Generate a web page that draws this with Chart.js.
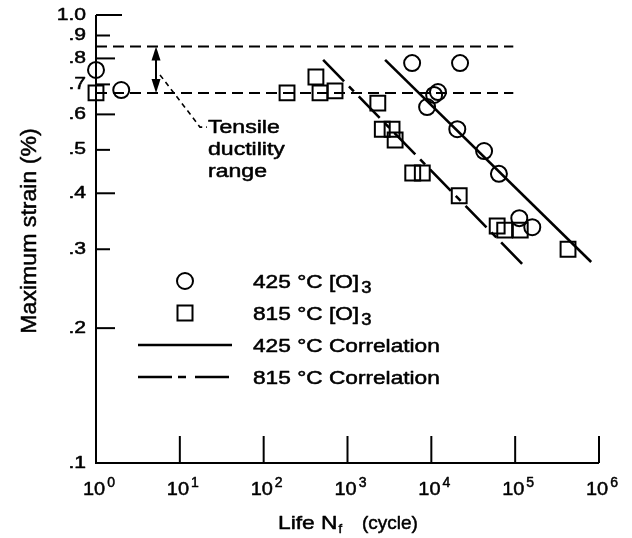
<!DOCTYPE html>
<html><head><meta charset="utf-8">
<script src="https://cdn.jsdelivr.net/npm/chart.js@4/dist/chart.umd.min.js"></script>
<style>html,body{margin:0;padding:0;background:#fff;}canvas{display:block;}</style>
</head><body>
<canvas id="c" width="632" height="538"></canvas>
<script>
// ---- data ----
const yTickValues = [0.1, 0.2, 0.3, 0.4, 0.5, 0.6, 0.7, 0.8, 0.9, 1.0];
const yTickLabels = ['.1', '.2', '.3', '.4', '.5', '.6', '.7', '.8', '.9', '1.0'];
const xTickExponents = [0, 1, 2, 3, 4, 5, 6];

const circ425X = [1, 2.0, 5900, 22000, 12000, 10800, 8900, 20400, 42600, 64000, 112000, 160000];
const circ425Y = [0.754, 0.680, 0.781, 0.781, 0.673, 0.663, 0.623, 0.556, 0.497, 0.442, 0.352, 0.336];

const sq815X = [1, 190, 420, 470, 710, 2300, 2600, 3400, 3700, 6000, 7800, 21500, 61000, 75000, 115000, 427000];
const sq815Y = [0.67, 0.67, 0.727, 0.67, 0.677, 0.636, 0.556, 0.556, 0.526, 0.444, 0.444, 0.395, 0.338, 0.331, 0.331, 0.300];

const corr425X = [2810, 807000];
const corr425Y = [0.794, 0.281];
const corr815X = [512, 131000];
const corr815Y = [0.794, 0.274];

const ductilityRange = [0.67, 0.85];      // strain bounds of tensile ductility
const ductilityLineX = [1, 95000];        // extent of the dashed bounds
const ductilityArrowX = 5.2;
const leaderX = [5.8, 14.4, 17.4, 21.1];
const leaderY = [0.735, 0.589, 0.562, 0.562];

const legendLabels = ['425 °C [O]', '815 °C [O]', '425 °C Correlation', '815 °C Correlation'];
const legendSubs = ['3', '3', '', ''];
const annotationLines = ['Tensile', 'ductility', 'range'];
const xTitle = ['Life N', 'f', '(cycle)'];
const yTitle = 'Maximum strain (%)';

const pts = (xs, ys) => xs.map((x, i) => ({ x: x, y: ys[i] }));

// ---- drawing helpers ----
const FONT = '"Liberation Sans", Arial, Helvetica, sans-serif';
function drawText(ctx, s, x, y, size, sx, align, baseline) {
  ctx.save();
  ctx.font = size + 'px ' + FONT;
  ctx.translate(x, y);
  ctx.scale(sx, 1);
  ctx.textAlign = align || 'left';
  ctx.textBaseline = baseline || 'alphabetic';
  ctx.lineWidth = 0.5;
  ctx.lineJoin = 'round';
  ctx.strokeStyle = '#000';
  ctx.fillText(s, 0, 0);
  ctx.strokeText(s, 0, 0);
  const w = ctx.measureText(s).width * sx;
  ctx.restore();
  return w;
}

const decor = {
  id: 'decor',
  afterDatasetsDraw(chart) {
    const ctx = chart.ctx, xs = chart.scales.x, ys = chart.scales.y;
    const L = xs.left, R = xs.right, T = ys.top, B = ys.bottom;
    ctx.save();
    ctx.strokeStyle = '#000';
    ctx.fillStyle = '#000';
    ctx.lineWidth = 2;
    ctx.setLineDash([]);
    // axis lines
    ctx.beginPath();
    ctx.moveTo(L, T); ctx.lineTo(L, B); ctx.lineTo(R, B);
    ctx.stroke();
    // y ticks (inward) + labels
    yTickValues.forEach((v, i) => {
      const py = ys.getPixelForValue(v);
      if (i > 0) {
        const len = (i === yTickValues.length - 1) ? 26 : (i % 2 === 1 ? 19 : 14);
        ctx.lineWidth = 2;
        ctx.beginPath(); ctx.moveTo(L, py); ctx.lineTo(L + len, py); ctx.stroke();
      }
      drawText(ctx, yTickLabels[i], L - 10, py, 16.5, 1.28, 'right', 'middle');
    });
    // x ticks (upward) + labels
    xTickExponents.forEach((e) => {
      const px = xs.getPixelForValue(Math.pow(10, e));
      if (e > 0) {
        ctx.lineWidth = 2;
        ctx.beginPath(); ctx.moveTo(px, B); ctx.lineTo(px, B - 27); ctx.stroke();
      }
      const w = drawText(ctx, '10', px - 13, B + 32, 19, 1.05, 'left');
      drawText(ctx, String(e), px - 13 + w + 2, B + 24, 14, 1.0, 'left');
    });
    // axis titles
    let x0 = 278;
    const w1 = drawText(ctx, xTitle[0], x0, 529, 19, 1.2, 'left');
    drawText(ctx, xTitle[1], x0 + w1 + 1, 533, 13, 1.0, 'left');
    drawText(ctx, xTitle[2], 362, 529, 19, 1.0, 'left');
    ctx.save();
    ctx.translate(30, 231);
    ctx.rotate(-Math.PI / 2);
    drawText(ctx, yTitle, 0, 0, 22, 1.05, 'center', 'middle');
    ctx.restore();

    // ductility arrow
    const ax = xs.getPixelForValue(ductilityArrowX);
    const yTop = ys.getPixelForValue(ductilityRange[1]);
    const yBot = ys.getPixelForValue(ductilityRange[0]);
    ctx.lineWidth = 2;
    ctx.beginPath(); ctx.moveTo(ax, yTop + 8); ctx.lineTo(ax, yBot - 8); ctx.stroke();
    ctx.beginPath(); ctx.moveTo(ax, yTop); ctx.lineTo(ax - 4.5, yTop + 14); ctx.lineTo(ax + 4.5, yTop + 14); ctx.closePath(); ctx.fill();
    ctx.beginPath(); ctx.moveTo(ax, yBot); ctx.lineTo(ax - 4.5, yBot - 14); ctx.lineTo(ax + 4.5, yBot - 14); ctx.closePath(); ctx.fill();

    // annotation text
    const lx = xs.getPixelForValue(leaderX[leaderX.length - 1]) + 1;
    const ly = ys.getPixelForValue(leaderY[leaderY.length - 1]);
    annotationLines.forEach((s, i) => {
      drawText(ctx, s, lx, ly + 6 + i * 22, 18, 1.28, 'left');
    });

    // legend
    const lgX = 185, lgY = [281, 313, 345, 377];
    ctx.lineWidth = 2;
    ctx.beginPath(); ctx.arc(lgX, lgY[0], 8, 0, Math.PI * 2); ctx.stroke();
    ctx.strokeRect(lgX - 7.5, lgY[1] - 7.5, 15, 15);
    ctx.lineWidth = 2.6;
    ctx.beginPath(); ctx.moveTo(138, lgY[2]); ctx.lineTo(232, lgY[2]); ctx.stroke();
    ctx.setLineDash([34, 6, 8, 9]);
    ctx.beginPath(); ctx.moveTo(138, lgY[3]); ctx.lineTo(232, lgY[3]); ctx.stroke();
    ctx.setLineDash([]);
    legendLabels.forEach((s, i) => {
      const base = lgY[i] + 7;
      const w = drawText(ctx, s, 253, base, 18, 1.26, 'left');
      if (legendSubs[i]) drawText(ctx, legendSubs[i], 253 + w + 2, base + 5, 16, 1.15, 'left');
    });
    ctx.restore();
  }
};

new Chart(document.getElementById('c'), {
  type: 'scatter',
  data: {
    datasets: [
      { label: 'upper', data: pts(ductilityLineX, [ductilityRange[1], ductilityRange[1]]), showLine: true,
        borderColor: '#000', borderWidth: 2, borderDash: [11, 6], pointRadius: 0, clip: false },
      { label: 'lower', data: pts(ductilityLineX, [ductilityRange[0], ductilityRange[0]]), showLine: true,
        borderColor: '#000', borderWidth: 2, borderDash: [11, 6], pointRadius: 0, clip: false },
      { label: 'leader', data: pts(leaderX, leaderY), showLine: true,
        borderColor: '#000', borderWidth: 1.6, borderDash: [5, 4], pointRadius: 0, clip: false },
      { label: '425 °C Correlation', data: pts(corr425X, corr425Y), showLine: true,
        borderColor: '#000', borderWidth: 2.6, pointRadius: 0, clip: false },
      { label: '815 °C Correlation', data: pts(corr815X, corr815Y), showLine: true,
        borderColor: '#000', borderWidth: 2.6, borderDash: [30, 7, 7, 7], pointRadius: 0, clip: false },
      { label: '425 °C [O]3', data: pts(circ425X, circ425Y), pointStyle: 'circle', pointRadius: 8,
        borderColor: '#000', borderWidth: 2, backgroundColor: 'rgba(0,0,0,0)', clip: false },
      { label: '815 °C [O]3', data: pts(sq815X, sq815Y), pointStyle: 'rect', pointRadius: 10.5,
        borderColor: '#000', borderWidth: 2, backgroundColor: 'rgba(0,0,0,0)', clip: false }
    ]
  },
  options: {
    responsive: false,
    animation: false,
    devicePixelRatio: 1,
    layout: { padding: { left: 96, right: 33, top: 15, bottom: 75 } },
    plugins: { legend: { display: false }, tooltip: { enabled: false } },
    scales: {
      x: { type: 'logarithmic', min: 1, max: 1e6, display: false },
      y: { type: 'logarithmic', min: 0.1, max: 1, display: false }
    }
  },
  plugins: [decor]
});
</script>
</body></html>
